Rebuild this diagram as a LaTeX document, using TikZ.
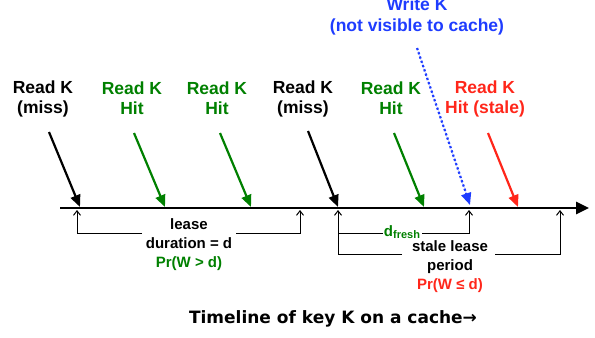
\documentclass[tikz,border=0pt]{standalone}
\usepackage{fontspec}
\setmainfont{Liberation Sans}
\newfontfamily\capfont{DejaVu Sans}
\usetikzlibrary{arrows.meta}
\definecolor{kgreen}{RGB}{0,128,0}
\definecolor{kred}{RGB}{255,38,26}
\definecolor{kblue}{RGB}{30,60,255}
\begin{document}
\begin{tikzpicture}[x=1bp,y=-1bp,
  lbl/.style={font=\bfseries\fontsize{17.5bp}{20bp}\selectfont, align=center, inner sep=0pt},
  sublbl/.style={font=\bfseries\fontsize{15bp}{19bp}\selectfont, align=center, inner sep=0pt},
  readarrow/.style={line width=2.2bp, -{Triangle[length=12bp,width=10bp]}},
  writearrow/.style={line width=2.2bp, dash pattern=on 2.2bp off 2.3bp, -{Triangle[length=12bp,width=10bp]}},
  tickline/.style={line width=1bp, -{Straight Barb[length=4.5bp,width=7bp]}},
  plainline/.style={line width=1bp},
  timeline/.style={line width=2.6bp, -{Triangle[length=13bp,width=12bp]}}
]
\useasboundingbox (0,0) rectangle (595,337);

% labels
\node[lbl] (m1) at (43,98.5) {Read K\\(miss)};
\node[lbl, text=kgreen] (h1) at (132,98.5) {Read K\\Hit};
\node[lbl, text=kgreen] (h2) at (217,98.5) {Read K\\Hit};
\node[lbl] (m2) at (303,98.5) {Read K\\(miss)};
\node[lbl, text=kgreen] (h3) at (391,98.5) {Read K\\Hit};
\node[lbl, text=kred] (st) at (485,98.5) {Read K\\Hit (stale)};
\node[lbl, text=kblue, font=\bfseries\fontsize{17.5bp}{21bp}\selectfont] (wr) at (417,16) {Write K\\(not visible to cache)};

% arrow end points
\coordinate (m1s) at (49,132);  \coordinate (m1e) at (80,207);
\coordinate (h1s) at (134,133); \coordinate (h1e) at (165,207);
\coordinate (h2s) at (220,133); \coordinate (h2e) at (251,207);
\coordinate (m2s) at (308,131); \coordinate (m2e) at (338,207);
\coordinate (h3s) at (394,133); \coordinate (h3e) at (424,207);
\coordinate (sts) at (488,133); \coordinate (ste) at (518,207);
\coordinate (wrs) at (417,48);  \coordinate (wre) at (470,205);

% timeline
\coordinate (tl0) at (60,208); \coordinate (tl1) at (589,208);
\draw[timeline] (tl0) -- (tl1);

\draw[readarrow] (m1s) -- (m1e);
\draw[readarrow, draw=kgreen, fill=kgreen] (h1s) -- (h1e);
\draw[readarrow, draw=kgreen, fill=kgreen] (h2s) -- (h2e);
\draw[readarrow] (m2s) -- (m2e);
\draw[readarrow, draw=kgreen, fill=kgreen] (h3s) -- (h3e);
\draw[readarrow, draw=kred, fill=kred] (sts) -- (ste);
\draw[writearrow, draw=kblue, fill=kblue] (wrs) -- (wre);

% brackets
\coordinate (a1) at (77,210);  \coordinate (a1b) at (77,233);  \coordinate (a1g) at (142,233);
\coordinate (a2) at (300,210); \coordinate (a2b) at (300,233); \coordinate (a2g) at (236,233);
\coordinate (c1) at (338,210); \coordinate (c1b) at (338,254); \coordinate (c1m) at (338,233);
\coordinate (c1g) at (402,254);
\coordinate (c2) at (469,210); \coordinate (c2b) at (469,233); \coordinate (c2g) at (422,233);
\coordinate (c1mg) at (383,233);
\coordinate (c3) at (560,210); \coordinate (c3b) at (560,254); \coordinate (c3g) at (495,254);

\draw[tickline] (a1g) -- (a1b) -- (a1);
\draw[tickline] (a2g) -- (a2b) -- (a2);
\draw[tickline] (c1g) -- (c1b) -- (c1);
\draw[plainline] (c1m) -- (c1mg);
\draw[tickline] (c2g) -- (c2b) -- (c2);
\draw[tickline] (c3g) -- (c3b) -- (c3);

\node[sublbl] (lease) at (189,245) {lease\\duration = d\\\textcolor{kgreen}{Pr(W > d)}};
\node[sublbl] (stale) at (450,266.5) {stale lease\\period\\\textcolor{kred}{Pr(W ≤ d)}};
\node[sublbl, text=kgreen, anchor=center] (dfresh) at (402,232) {d{\fontsize{11bp}{11bp}\selectfont\raisebox{-2.5bp}{fresh}}};

% caption
\node[font=\capfont\bfseries\fontsize{17bp}{20bp}\selectfont, inner sep=0pt] (cap) at (333,319) {Timeline of key K on a cache→};
\end{tikzpicture}
\end{document}
